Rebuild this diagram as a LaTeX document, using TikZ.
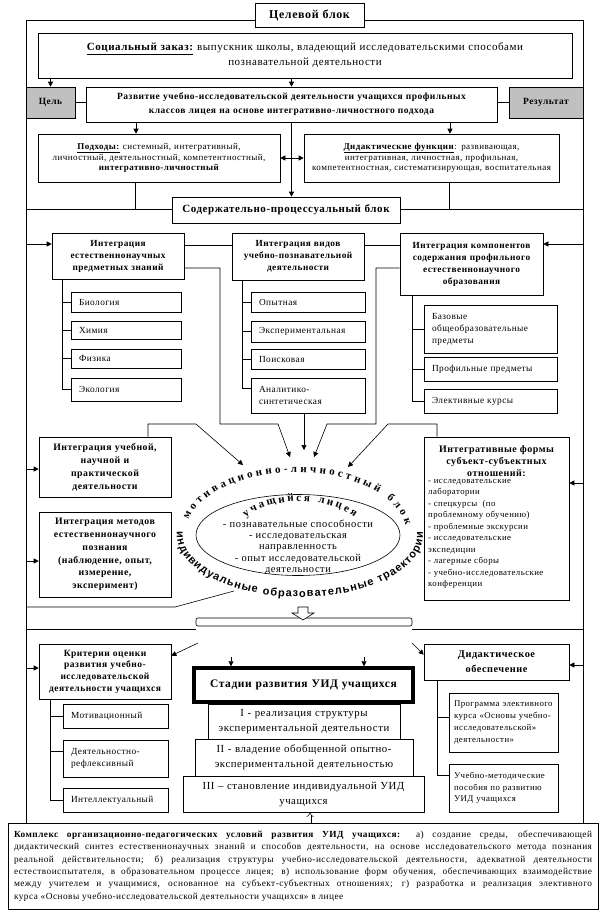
\documentclass[tikz,border=0pt]{standalone}
\usepackage{fontspec}
\setmainfont{Liberation Serif}[LetterSpace=5]
\newfontfamily\arcsans{Liberation Sans}
\usetikzlibrary{arrows.meta,shapes.geometric,decorations.text}
\definecolor{boxgray}{RGB}{192,192,192}
\newcommand\fs[2]{\fontsize{#1}{#2}\selectfont}
\newcommand\arcfontA{\fontsize{11}{11}\selectfont\bfseries}
\newcommand\arcfontB{\fontsize{11}{11}\selectfont\bfseries}
\newcommand\arcfontC{\arcsans\fontsize{11}{11}\selectfont\bfseries}
\newcommand\mybx[8][]{%
  \pgfmathsetmacro\bw{#5-#3}%
  \pgfmathsetmacro\bh{#6-#4}%
  \pgfmathsetmacro\bcx{(#3+#5)/2}%
  \pgfmathsetmacro\bcy{(#4+#6)/2}%
  \pgfmathsetmacro\btw{#5-#3-2*#7}%
  \node[box, minimum width=\bw pt, minimum height=\bh pt, text width=\btw pt, #1] (#2) at (\bcx,\bcy) {#8};}
\begin{document}
\begin{tikzpicture}[x=1pt,y=-1pt,
  box/.style={draw, line width=0.6pt, inner sep=0pt, align=center, fill=white},
  lbox/.style={align=left},
  gfill/.style={fill=boxgray},
  ln/.style={line width=0.6pt},
  arr/.style={ln, -{Triangle[length=5pt,width=5pt]}},
  darr/.style={ln, {Triangle[length=5pt,width=5pt]}-{Triangle[length=5pt,width=5pt]}},
]
\useasboundingbox (0,0) rectangle (606,913);

% ---------- Target block ----------
\mybx[font=\fs{12}{14}\bfseries]{cel}{255}{3}{364}{27}{3}{Целевой блок}
\mybx[font=\fs{11}{15}]{soc}{38}{33}{572}{78}{3}{\underline{\textbf{Социальный заказ:}} выпускник школы, владеющий исследовательскими способами\\познавательной деятельности}
\mybx[gfill,font=\fs{9.5}{11}\bfseries]{goal}{26}{87}{75}{118}{2}{Цель}
\mybx[font=\fs{9.5}{14}\bfseries]{razv}{86}{87}{497}{122}{3}{Развитие учебно-исследовательской деятельности учащихся профильных\\классов лицея на основе интегративно-личностного подхода}
\mybx[gfill,font=\fs{9.5}{11}\bfseries]{res}{509}{87}{583}{118}{2}{Результат}
\mybx[font=\fs{9}{10.8}]{podh}{38}{134}{280}{182}{3}{\underline{\textbf{Подходы:}} системный, интегративный,\\личностный, деятельностный, компетентностный,\\\textbf{интегративно-личностный}}
\mybx[font=\fs{9}{10.8}]{didf}{304}{134}{559}{182}{3}{\underline{\textbf{Дидактические функции}}: развивающая,\\интегративная, личностная, профильная,\\компетентностная, систематизирующая, воспитательная}
\mybx[font=\fs{11}{13}\bfseries]{soder}{172}{197}{400}{223}{3}{Содержательно-процессуальный блок}

% ---------- Content block ----------
\mybx[font=\fs{9.3}{12}\bfseries]{A}{52}{233}{184}{279}{3}{Интеграция\\естественнонаучных\\предметных знаний}
\mybx[font=\fs{9.3}{12}\bfseries]{B}{232}{233}{364}{280}{3}{Интеграция видов\\учебно-познавательной\\деятельности}
\mybx[font=\fs{9.3}{12}\bfseries]{C}{400}{233}{543}{295}{3}{Интеграция компонентов\\содержания профильного\\естественнонаучного\\образования}

\mybx[lbox,font=\fs{9.3}{12}]{bio}{71}{292}{181}{312}{8}{Биология}
\mybx[lbox,font=\fs{9.3}{12}]{him}{71}{321}{181}{339}{8}{Химия}
\mybx[lbox,font=\fs{9.3}{12}]{fiz}{71}{349}{181}{368}{8}{Физика}
\mybx[lbox,font=\fs{9.3}{12}]{ekol}{71}{378}{181}{401}{8}{Экология}

\mybx[lbox,font=\fs{9.3}{12}]{opyt}{251}{292}{365}{312}{8}{Опытная}
\mybx[lbox,font=\fs{9.3}{12}]{eksp}{251}{321}{365}{342}{8}{Экспериментальная}
\mybx[lbox,font=\fs{9.3}{12}]{poisk}{251}{349}{365}{369}{8}{Поисковая}
\mybx[lbox,font=\fs{9.3}{12}]{anal}{251}{378}{365}{413}{8}{Аналитико-\\синтетическая}

\mybx[lbox,font=\fs{9.3}{12}]{baz}{424}{305}{557}{353}{8}{Базовые\\общеобразовательные\\предметы}
\mybx[lbox,font=\fs{9.3}{12}]{prof}{424}{357}{557}{381}{8}{Профильные предметы}
\mybx[lbox,font=\fs{9.3}{12}]{elek}{424}{389}{557}{413}{8}{Элективные курсы}

\mybx[font=\fs{9.8}{13}\bfseries]{D}{39}{437}{171}{497}{3}{Интеграция учебной,\\научной и\\практической\\деятельности}
\mybx[font=\fs{9.8}{12.7}\bfseries]{E}{39}{512}{171}{597}{3}{Интеграция методов\\естественнонаучного\\познания\\(наблюдение, опыт,\\измерение,\\эксперимент)}
\mybx{F}{424}{437}{569}{600}{3}{}
\node[font=\fs{10}{11.7}\bfseries, align=center, inner sep=0pt] (Ft) at (496.5,461) {Интегративные формы\\субъект-субъектных\\отношений:};
\node[font=\fs{8.8}{11.5}, align=left, anchor=north west, inner sep=0pt] (Fl) at (428,479) {- исследовательские\\лаборатории\\- спецкурсы\ \ (по\\проблемному обучению)\\- проблемные экскурсии\\- исследовательские\\экспедиции\\- лагерные сборы\\- учебно-исследовательские\\конференции};

% ellipse
\node[draw, ln, ellipse, minimum width=204pt, minimum height=81pt, inner sep=0pt] (ell) at (298,535) {};
\node[font=\fs{10.5}{11.3}, align=center, inner sep=0pt] (elt) at (298,547) {- познавательные способности\\- исследовательская\\направленность\\- опыт исследовательской\\деятельности};

\path[decorate, decoration={text along path, text align={fit to path}, text={|\arcfontA|мотивационно-личностный блок}}]
  (296,535) ++(194:111 and 63) arc[start angle=194, end angle=351, x radius=111, y radius=63];
\path[decorate, decoration={text along path, text align={fit to path}, text={|\arcfontB|учащийся лицея}}]
  (300,545) ++(219:70 and 44) arc[start angle=219, end angle=321, x radius=70, y radius=44];
\path[decorate, decoration={text along path, text align={fit to path}, text={|\arcfontC|индивидуальные образовательные траектории}}]
  (300,535) ++(183:123 and 62) arc[start angle=183, end angle=-3, x radius=123, y radius=62];

% ---------- Third block ----------
\mybx[rounded corners=2pt]{thin}{196}{618}{412}{626}{0}{}
\mybx[font=\fs{9.5}{11.7}\bfseries]{krit}{39}{644}{171}{699}{3}{Критерии оценки\\развития учебно-\\исследовательской\\деятельности учащихся}
\mybx[lbox,font=\fs{9.3}{12}]{motiv}{63}{704}{168}{728}{8}{Мотивационный}
\mybx[lbox,font=\fs{9.3}{12}]{deyat}{63}{740}{168}{777}{8}{Деятельностно-\\рефлексивный}
\mybx[lbox,font=\fs{9.3}{12}]{intel}{63}{788}{168}{812}{8}{Интеллектуальный}

\mybx[font=\fs{10.8}{15}]{st1}{208}{704}{400}{739}{3}{I - реализация структуры\\экспериментальной деятельности}
\mybx[font=\fs{10.8}{15}]{st2}{195}{739}{413}{776}{3}{II - владение обобщенной опытно-\\экспериментальной деятельностью}
\mybx[font=\fs{10.8}{15}]{st3}{183}{776}{424}{812}{3}{III – становление индивидуальной УИД\\учащихся}
\mybx[line width=3.5pt, font=\fs{11.5}{13}\bfseries]{stadii}{194}{668}{413}{702}{3}{Стадии развития УИД учащихся}

\mybx[font=\fs{10.3}{15}\bfseries]{dobes}{424}{644}{569}{680}{3}{Дидактическое\\обеспечение}
\mybx[lbox,font=\fs{8.8}{11.7}]{prog}{449}{693}{558}{752}{5}{Программа элективного\\курса «Основы учебно-\\исследовательской»\\деятельности»}
\mybx[lbox,font=\fs{8.8}{11.7}]{uch}{449}{764}{558}{812}{5}{Учебно-методические\\пособия по развитию\\УИД учащихся}

\mybx[align=justify,font=\fs{9.3}{12.4}]{kompl}{8}{823}{598}{909}{6}{\textbf{Комплекс организационно-педагогических условий развития УИД учащихся:} а)~создание среды, обеспечивающей\linebreak дидактический синтез естественнонаучных знаний и способов деятельности, на основе исследовательского метода познания\linebreak реальной действительности; б) реализация структуры учебно-исследовательской деятельности, адекватной деятельности\linebreak естествоиспытателя, в образовательном процессе лицея; в) использование форм обучения, обеспечивающих взаимодействие\linebreak между учителем и учащимися, основанное на субъект-субъектных отношениях; г) разработка и реализация элективного\linebreak курса «Основы учебно-исследовательской деятельности учащихся» в лицее}

% ---------- Frames ----------
\draw[ln] (cel.west |- 0,20) -- (26,20) -- (26,0 |- kompl.north);
\draw[ln] (cel.east |- 0,20) -- (583,20) -- (583,0 |- kompl.north);
\draw[ln] (26,209) -- (soder.west |- 0,209);
\draw[ln] (soder.east |- 0,209) -- (583,209);
\draw[ln] (26,629) -- (thin.west |- 0,629);
\draw[ln] (thin.east |- 0,629) -- (583,629);
\coordinate (trj) at (234,591);
\draw[ln] (26,607) -- (175,607) -- (trj);

% arrows from frames
\draw[arr] (26,244) -- (A.west |- 0,244);
\draw[arr] (583,244) -- (C.east |- 0,244);
\draw[arr] (26,469) -- (D.west |- 0,469);
\draw[arr] (26,561) -- (E.west |- 0,561);
\draw[arr] (583,483) -- (F.east |- 0,483);
\draw[arr] (26,668) -- (krit.west |- 0,668);
\draw[arr] (583,665) -- (dobes.east |- 0,665);

% top connectors
\draw[arr] (goal.north |- soc.south) -- (goal.north);
\draw[arr] (razv.north |- soc.south) -- (razv.north);
\draw[ln] (goal.east) -- (goal.east -| razv.west);
\draw[ln] (res.west -| razv.east) -- (res.west);
\draw[arr] (136,0 |- razv.south) -- (136,0 |- podh.north);
\draw[arr] (450,0 |- razv.south) -- (450,0 |- didf.north);
\draw[darr] (podh.east) -- (didf.west);
\draw[arr] (razv.south) -- (razv.south |- soder.north);
\draw[ln] (135,0 |- podh.south) -- (135,209);
\draw[ln] (449,0 |- didf.south) -- (449,209);

% content connectors
\draw[ln] (A.east |- 0,245) -- (B.west |- 0,245);
\draw[ln] (B.east |- 0,245) -- (C.west |- 0,245);
\draw[ln] (62,0 |- A.south) -- (62,0 |- ekol.west);
\foreach \n in {bio,him,fiz,ekol} \draw[ln] (62,0 |- \n.west) -- (\n.west);
\draw[ln] (242,0 |- B.south) -- (242,388);
\foreach \n in {opyt,eksp,poisk} \draw[ln] (242,0 |- \n.west) -- (\n.west);
\draw[ln] (242,388) -- (anal.west |- 0,388);
\draw[ln] (412,0 |- C.south) -- (412,0 |- elek.west);
\foreach \n in {baz,prof,elek} \draw[ln] (412,0 |- \n.west) -- (\n.west);

\coordinate (tA) at (290,457);
\coordinate (tB) at (304,450);
\coordinate (tC) at (314,457);
\coordinate (tD) at (243,465);
\coordinate (tF) at (348,467);
\draw[arr] (A.east |- 0,268) -- (220,268) -- (220,424) -- (278,424) -- (tA);
\draw[arr] (C.west |- 0,268) -- (376,268) -- (376,424) -- (327,424) -- (tC);
\draw[arr] (anal.south -| tB) -- (tB);
\draw[arr] (148,0 |- D.north) -- (148,424) -- (196,424) -- (tD);
\draw[arr] (437,0 |- F.north) -- (437,424) -- (388,424) -- (tF);

% third block connectors
\draw[ln, fill=white] (298,607) -- (308,607) -- (308,613) -- (314,613) -- (303,620) -- (292,613) -- (298,613) -- cycle;
\coordinate (s1) at (198,643);
\coordinate (s2) at (412,643);
\draw[arr] (s1) -- ([yshift=-12pt]krit.north east);
\draw[arr] (s2) -- ([yshift=-11pt]dobes.north west);
\coordinate (s3) at (231,657);
\coordinate (s4) at (364,657);
\draw[arr] (s3) -- (s3 |- stadii.north);
\draw[arr] (s4) -- (s4 |- stadii.north);
\draw[ln] (50,0 |- krit.south) -- (50,0 |- intel.west);
\draw[ln] (50,0 |- motiv.west) -- (motiv.west);
\draw[ln] (50,751) -- (deyat.west |- 0,751);
\draw[ln] (50,0 |- intel.west) -- (intel.west);
\draw[ln] (437,0 |- dobes.south) -- (437,775);
\draw[ln] (437,717) -- (prog.west |- 0,717);
\draw[ln] (437,775) -- (uch.west |- 0,775);
\draw[line width=0.5pt, double, double distance=2pt, -{Implies}] (310,0 |- kompl.north) -- (310,0 |- st3.south);
\end{tikzpicture}
\end{document}
